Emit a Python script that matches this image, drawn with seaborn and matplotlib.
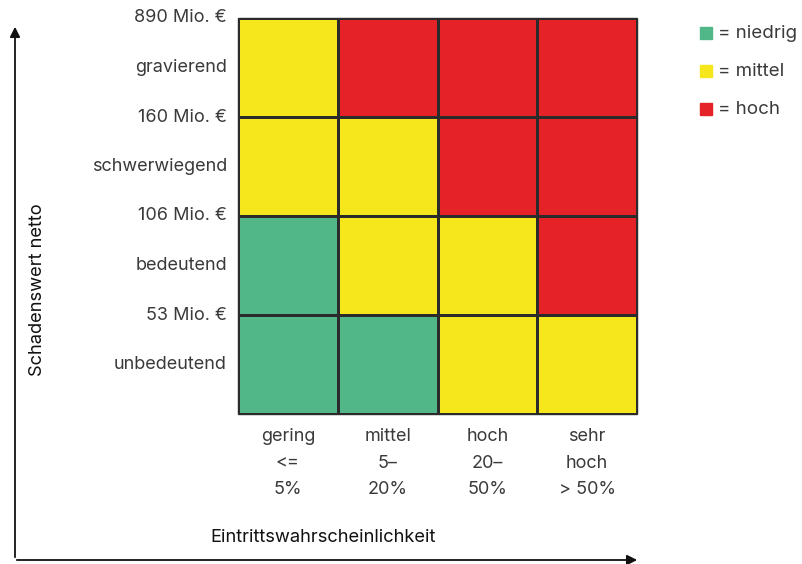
import numpy as np
import pandas as pd
import seaborn as sns
import matplotlib.pyplot as plt
from matplotlib.colors import ListedColormap
from matplotlib.patches import Rectangle, FancyArrowPatch

sns.set_style("white")
plt.rcParams['font.family'] = ['Inter', 'DejaVu Sans']

# Data
rows = ["gravierend", "schwerwiegend", "bedeutend", "unbedeutend"]
cols = ["gering\n<=\n5%", "mittel\n5–\n20%", "hoch\n20–\n50%", "sehr\nhoch\n> 50%"]
# 0 = niedrig, 1 = mittel, 2 = hoch
risk = [
    [1, 2, 2, 2],
    [1, 1, 2, 2],
    [0, 1, 1, 2],
    [0, 0, 1, 1],
]
boundaries = ["890 Mio. €", "160 Mio. €", "106 Mio. €", "53 Mio. €"]
levels = ["= niedrig", "= mittel", "= hoch"]
colors = ["#52b788", "#f6e61c", "#e42227"]

df = pd.DataFrame(risk, index=rows, columns=cols)

fig = plt.figure(figsize=(8.02, 5.64), dpi=100)
ax = fig.add_axes([238/802, 1-414/564, (637-238)/802, (414-18)/564])
sns.heatmap(df, ax=ax, cmap=ListedColormap(colors), vmin=-0.5, vmax=2.5,
            cbar=False, linewidths=0.8, linecolor="#2b2b2b", square=False)
ax.add_patch(Rectangle((0, 0), 4, 4, fill=False, edgecolor="#2b2b2b", lw=1.0, clip_on=False))

txtc = "#3a3a3a"
# y ticks: boundaries and category names interleaved
ypos, ylab = [], []
for i, r in enumerate(rows):
    ypos += [i, i + 0.5]
    ylab += [boundaries[i], r]
ax.set_yticks(ypos)
ax.set_yticklabels(ylab, rotation=0, fontsize=13, color=txtc)
ax.set_xticks(np.arange(len(cols)) + 0.5)
ax.set_xticklabels(cols, rotation=0, fontsize=13, color=txtc, linespacing=1.75)
ax.tick_params(axis="both", length=0, pad=8)
ax.tick_params(axis="x", pad=10)
ax.set_xlabel("")
ax.set_ylabel("")

# axis titles
fig.text(323/802, 1-538/564, "Eintrittswahrscheinlichkeit", ha="center", va="center",
         fontsize=13.2, color="#111111")
fig.text(38/802, 1-290/564, "Schadenswert netto", ha="center", va="center",
         rotation=90, fontsize=13.2, color="#111111")

# arrows
fig.patches.append(FancyArrowPatch(
    (15/802, 1-560/564), (15/802, 1-24/564), transform=fig.transFigure,
    arrowstyle="-|>,head_length=6,head_width=3", color="#111111", lw=1.3))
fig.patches.append(FancyArrowPatch(
    (14/802, 1-560/564), (640/802, 1-560/564), transform=fig.transFigure,
    arrowstyle="-|>,head_length=6,head_width=3", color="#111111", lw=1.3))

# legend
for k, (lab, c) in enumerate(zip(levels, colors)):
    y = 33 + 38 * k
    fig.patches.append(Rectangle((700/802, 1-(y+6)/564), 12/802, 12/564,
                                 transform=fig.transFigure, color=c))
    fig.text(718/802, 1-y/564, lab, ha="left", va="center", fontsize=13.5, color=txtc)

fig.savefig("out.png", dpi=100)
